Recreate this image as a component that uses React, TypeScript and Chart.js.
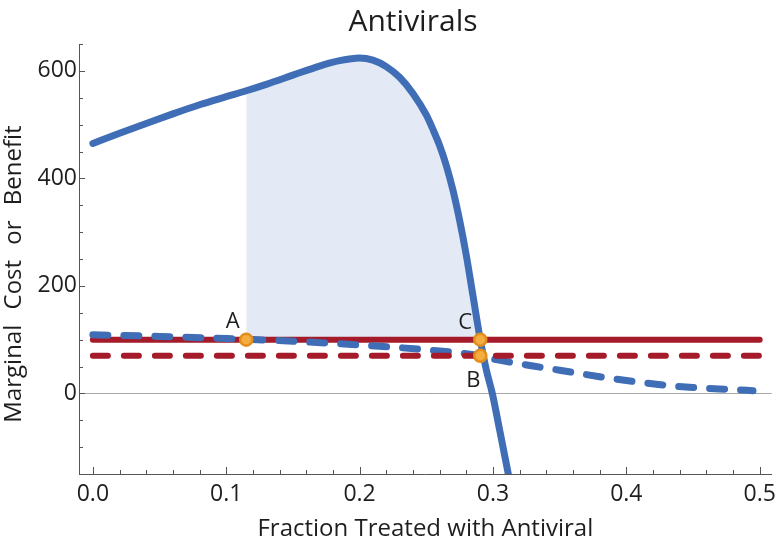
import React, { useEffect, useRef } from 'react';
import { Chart, registerables } from 'chart.js';

Chart.register(...registerables);

// Marginal benefit of treatment (solid blue)
const benefitX = [0, 0.02, 0.04, 0.06, 0.08, 0.1, 0.115, 0.13, 0.15, 0.17, 0.185, 0.2, 0.21, 0.22, 0.23, 0.24, 0.25, 0.255, 0.26, 0.265, 0.27, 0.275, 0.28, 0.285, 0.2905, 0.295, 0.2995, 0.305, 0.3115];
const benefitY = [465, 484, 502, 520, 537, 552, 563, 575, 592, 609, 619, 624, 620, 608, 588, 558, 518, 491, 461, 424, 378, 322, 257, 182, 100, 44, 0, -68, -150];

// Marginal benefit, alternative (dashed blue)
const altX = [0, 0.05, 0.1, 0.15, 0.2, 0.25, 0.29, 0.3, 0.33, 0.35, 0.38, 0.4, 0.43, 0.45, 0.48, 0.495];
const altY = [109, 106, 102, 97, 90, 81, 70, 64, 51, 43, 31, 24, 15, 11, 7, 5];

// Marginal cost lines (red)
const costX = [0, 0.5];
const costFull = [100, 100];
const costSubsidized = [70, 70];

// Key points
const keyX = [0.115, 0.2905, 0.2905];
const keyY = [100, 100, 70];
const keyLabels = ['A', 'C', 'B'];

// Shaded surplus region bounds
const shadeFrom = 0.115;
const shadeTo = 0.2905;
const shadeBase = 100;

// Axes
const xMin = -0.0104;
const xMax = 0.509;
const yMin = -150;
const yMax = 650;
const xTicks = [0, 0.1, 0.2, 0.3, 0.4, 0.5];
const xMinorTicks = [0.02, 0.04, 0.06, 0.08, 0.12, 0.14, 0.16, 0.18, 0.22, 0.24, 0.26, 0.28, 0.32, 0.34, 0.36, 0.38, 0.42, 0.44, 0.46, 0.48];
const yTicks = [0, 200, 400, 600];
const yMinorTicks = [-150, -100, -50, 50, 100, 150, 250, 300, 350, 450, 500, 550, 650];

const titleText = 'Antivirals';
const xTitle = 'Fraction Treated with Antiviral';
const yTitle = 'Marginal Cost or Benefit';

const FONT = "'Open Sans', 'DejaVu Sans', sans-serif";
const BLUE = '#3f6db6';
const RED = '#a51b29';
const TEXT = '#1e1e1e';

const decor = {
  id: 'decor',
  beforeDatasetsDraw(chart: any) {
    const { ctx, chartArea: a, scales } = chart;
    const y0 = Math.round(scales.y.getPixelForValue(0)) + 0.5;
    ctx.save();
    ctx.strokeStyle = '#a8a8a8';
    ctx.lineWidth = 1;
    ctx.beginPath();
    ctx.moveTo(a.left, y0);
    ctx.lineTo(a.right, y0);
    ctx.stroke();
    ctx.restore();
  },
  afterDraw(chart: any) {
    const { ctx, chartArea: a, scales } = chart;
    const x = scales.x;
    const y = scales.y;
    ctx.save();
    ctx.strokeStyle = '#555';
    ctx.lineWidth = 1;
    ctx.beginPath();
    xTicks.forEach((v) => {
      const px = Math.round(x.getPixelForValue(v)) + 0.5;
      ctx.moveTo(px, a.bottom);
      ctx.lineTo(px, a.bottom - 7);
    });
    xMinorTicks.forEach((v) => {
      const px = Math.round(x.getPixelForValue(v)) + 0.5;
      ctx.moveTo(px, a.bottom);
      ctx.lineTo(px, a.bottom - 4);
    });
    yTicks.forEach((v) => {
      const py = Math.round(y.getPixelForValue(v)) + 0.5;
      ctx.moveTo(a.left, py);
      ctx.lineTo(a.left + 6, py);
    });
    yMinorTicks.forEach((v) => {
      const py = Math.round(y.getPixelForValue(v)) + 0.5;
      ctx.moveTo(a.left, py);
      ctx.lineTo(a.left + 4, py);
    });
    ctx.stroke();

    ctx.fillStyle = TEXT;
    ctx.textBaseline = 'alphabetic';

    // title
    ctx.textAlign = 'center';
    ctx.font = `30px ${FONT}`;
    ctx.fillText(titleText, 413, 31);

    // y axis title
    ctx.save();
    ctx.translate(21, (a.top + a.bottom) / 2 + 15);
    ctx.rotate(-Math.PI / 2);
    ctx.font = `24px ${FONT}`;
    (ctx as any).wordSpacing = '9px';
    ctx.fillText(yTitle, 0, 0);
    ctx.restore();

    // point labels
    ctx.font = `22px ${FONT}`;
    const offsets = [[-13.5, -12], [-15, -11], [-7, 31]];
    keyLabels.forEach((t, i) => {
      const px = x.getPixelForValue(keyX[i]);
      const py = y.getPixelForValue(keyY[i]);
      ctx.fillText(t, px + offsets[i][0], py + offsets[i][1]);
    });
    ctx.restore();
  },
};

export default function App() {
  const ref = useRef<HTMLCanvasElement>(null);
  useEffect(() => {
    if (!ref.current) return;
    const pts = (xs: number[], ys: number[]) => xs.map((v, i) => ({ x: v, y: ys[i] }));
    const shade = pts(benefitX, benefitY).filter((p) => p.x >= shadeFrom && p.x <= shadeTo);
    const chart = new Chart(ref.current, {
      type: 'line',
      data: {
        datasets: [
          {
            label: 'Key points',
            data: pts(keyX, keyY),
            showLine: false,
            pointRadius: 6,
            pointBackgroundColor: '#f3ad40',
            pointBorderColor: '#e48f1c',
            pointBorderWidth: 2.5,
          },
          {
            label: 'Marginal benefit',
            data: pts(benefitX, benefitY),
            borderColor: BLUE,
            borderWidth: 7,
            borderCapStyle: 'round',
            borderJoinStyle: 'round',
            cubicInterpolationMode: 'monotone',
            pointRadius: 0,
            fill: false,
          },
          {
            label: 'Subsidized cost',
            data: pts(costX, costSubsidized),
            borderColor: RED,
            borderWidth: 6,
            borderDash: [15, 16],
            borderCapStyle: 'round',
            pointRadius: 0,
            fill: false,
          },
          {
            label: 'Marginal benefit (alt)',
            data: pts(altX, altY),
            borderColor: BLUE,
            borderWidth: 7,
            borderDash: [15, 16],
            borderCapStyle: 'round',
            cubicInterpolationMode: 'monotone',
            pointRadius: 0,
            fill: false,
          },
          {
            label: 'Marginal cost',
            data: pts(costX, costFull),
            borderColor: RED,
            borderWidth: 6,
            borderCapStyle: 'round',
            pointRadius: 0,
            fill: false,
          },
          {
            label: 'Surplus',
            data: shade,
            borderWidth: 0,
            borderColor: 'rgba(0,0,0,0)',
            backgroundColor: '#e3e9f5',
            cubicInterpolationMode: 'monotone',
            pointRadius: 0,
            fill: { value: shadeBase },
          },
        ],
      },
      options: {
        responsive: false,
        animation: false,
        devicePixelRatio: 1,
        layout: { padding: { top: 44, right: 8, left: 0, bottom: 0 } },
        plugins: {
          legend: { display: false },
          title: { display: false },
          tooltip: { enabled: false },
        },
        scales: {
          x: {
            type: 'linear',
            min: xMin,
            max: xMax,
            afterFit: (s: any) => { s.height = 70; },
            afterBuildTicks: (s: any) => { s.ticks = xTicks.map((v) => ({ value: v })); },
            grid: { display: false, drawTicks: false },
            border: { display: true, color: '#555', width: 1 },
            ticks: {
              padding: 7,
              color: TEXT,
              font: { family: FONT, size: 23 },
              maxRotation: 0,
              autoSkip: false,
              callback: (v: any) => Number(v).toFixed(1),
            },
            title: {
              display: true,
              text: xTitle,
              color: TEXT,
              font: { family: FONT, size: 24 },
              padding: { top: 0, bottom: 0 },
            },
          },
          y: {
            type: 'linear',
            min: yMin,
            max: yMax,
            afterFit: (s: any) => { s.width = 79; },
            afterBuildTicks: (s: any) => { s.ticks = yTicks.map((v) => ({ value: v })); },
            grid: { display: false, drawTicks: false },
            border: { display: true, color: '#555', width: 1 },
            ticks: {
              padding: 2,
              color: TEXT,
              font: { family: FONT, size: 23 },
              autoSkip: false,
              callback: (v: any) => String(v),
            },
          },
        },
      },
      plugins: [decor],
    } as any);
    return () => chart.destroy();
  }, []);
  return (
    <div style={{ position: 'fixed', left: 0, top: 0, width: 783, height: 544, background: '#fff' }}>
      <canvas ref={ref} width={783} height={544} />
    </div>
  );
}
